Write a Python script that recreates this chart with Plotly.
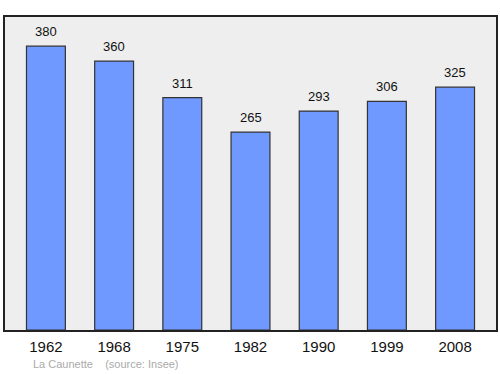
import plotly.graph_objects as go

years = ["1962", "1968", "1975", "1982", "1990", "1999", "2008"]
population = [380, 360, 311, 265, 293, 306, 325]
source_text = "La Caunette    (source: Insee)"

fig = go.Figure()
fig.add_trace(go.Bar(
    x=list(range(len(years))), y=population, width=0.57,
    marker=dict(color="#7099ff", line=dict(color="#333333", width=1.2)),
    hoverinfo="skip",
))
for i, v in enumerate(population):
    fig.add_annotation(x=i, y=v, text=str(v), showarrow=False,
                       yanchor="bottom", yshift=5,
                       font=dict(family="Liberation Sans, Arial", size=13, color="#111111"))
fig.add_annotation(xref="paper", yref="paper", x=0.053, y=-0.108, xanchor="left", yanchor="middle",
                   text=source_text, showarrow=False,
                   font=dict(family="Liberation Sans, Arial", size=11, color="#aaaaaa"))

fig.update_layout(
    width=500, height=374,
    margin=dict(l=5, r=2, t=17, b=44),
    paper_bgcolor="white", plot_bgcolor="#eeeeee",
    showlegend=False,
    xaxis=dict(range=[-0.6, 6.6], tickmode="array", tickvals=list(range(len(years))), ticktext=years,
               showgrid=False, zeroline=False, showline=True, mirror=True, linecolor="#222222", linewidth=1.5,
               ticks="", ticklabelstandoff=2,
               tickfont=dict(family="Liberation Sans, Arial", size=15, color="#111111")),
    yaxis=dict(range=[0, 419], showgrid=False, zeroline=False, showticklabels=False, ticks="",
               showline=True, mirror=True, linecolor="#222222", linewidth=1.5),
)
fig.write_html("out.html")
